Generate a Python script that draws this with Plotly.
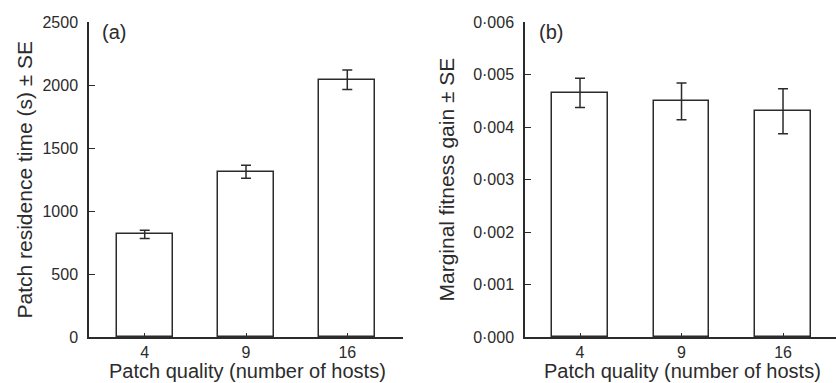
import plotly.graph_objects as go

# ---- data ----
categories = ["4", "9", "16"]
residence_time = [815, 1312, 2042]
residence_se = [33, 52, 78]
fitness_gain = [0.00465, 0.00449, 0.00430]
fitness_se = [0.00028, 0.00035, 0.00043]

yticks_a = [0, 500, 1000, 1500, 2000, 2500]
yticklabels_a = ["0", "500", "1000", "1500", "2000", "2500"]
yticks_b = [0, 0.001, 0.002, 0.003, 0.004, 0.005, 0.006]
yticklabels_b = ["0·000", "0·001", "0·002", "0·003", "0·004", "0·005", "0·006"]

xtitle = "Patch quality (number of hosts)"
ytitle_a = "Patch residence time (s) ± SE"
ytitle_b = "Marginal fitness gain ± SE"

INK = "#2b2b2b"
FONT = "Liberation Sans, Arial, sans-serif"
xpos = list(range(len(categories)))

fig = go.Figure()
fig.add_trace(go.Bar(
    x=xpos, y=residence_time, width=0.55,
    marker=dict(color="white", line=dict(color=INK, width=1.5)),
    error_y=dict(type="data", array=residence_se, color=INK, thickness=1.5, width=5),
    xaxis="x", yaxis="y", showlegend=False))
fig.add_trace(go.Bar(
    x=xpos, y=fitness_gain, width=0.55,
    marker=dict(color="white", line=dict(color=INK, width=1.5)),
    error_y=dict(type="data", array=fitness_se, color=INK, thickness=1.5, width=5),
    xaxis="x2", yaxis="y2", showlegend=False))

xcommon = dict(tickmode="array", tickvals=xpos, ticktext=categories,
               ticks="inside", ticklen=4, tickwidth=1.3, tickcolor=INK,
               showline=True, linecolor=INK, linewidth=1.5, showgrid=False,
               zeroline=False, tickfont=dict(size=16, color=INK, family=FONT))
ycommon = dict(tickmode="array", ticks="inside", ticklen=6, tickwidth=1.3, tickcolor=INK,
               showline=True, linecolor=INK, linewidth=1.5, showgrid=False,
               zeroline=False, ticklabelstandoff=6,
               tickfont=dict(size=16, color=INK, family=FONT))

fig.update_layout(
    width=836, height=383,
    margin=dict(l=0, r=0, t=22, b=46),
    paper_bgcolor="white", plot_bgcolor="white",
    font=dict(family=FONT, color=INK),
    bargap=0,
    xaxis=dict(domain=[89/836, 403/836], range=[-0.55, 2.55], anchor="y", **xcommon),
    yaxis=dict(domain=[0, 1], range=[0, 2500], anchor="x",
               tickvals=yticks_a, ticktext=yticklabels_a, **ycommon),
    xaxis2=dict(domain=[525/836, 1.0], range=[-0.542, 2.522], anchor="y2", **xcommon),
    yaxis2=dict(domain=[0, 1], range=[0, 0.006], anchor="x2",
                tickvals=yticks_b, ticktext=yticklabels_b, **ycommon),
)

xt = dict(showarrow=False, font=dict(size=20, color=INK, family=FONT))
fig.add_annotation(text=xtitle, xref="paper", yref="paper", x=247/836, y=0,
                   yshift=-34, yanchor="middle", xanchor="center", **xt)
fig.add_annotation(text=xtitle, xref="paper", yref="paper", x=682/836, y=0,
                   yshift=-34, yanchor="middle", xanchor="center", **xt)
yt = dict(showarrow=False, font=dict(size=21, color=INK, family=FONT))
fig.add_annotation(text=ytitle_a, xref="paper", yref="y domain", x=24/836, y=0.5,
                   textangle=-90, xanchor="center", yanchor="middle", **yt)
fig.add_annotation(text=ytitle_b, xref="paper", yref="y2 domain", x=446/836, y=0.5,
                   textangle=-90, xanchor="center", yanchor="middle", **yt)
lab = dict(showarrow=False, font=dict(size=20, color=INK, family=FONT))
fig.add_annotation(text="(a)", xref="paper", yref="paper", x=100/836, y=1,
                   yshift=-10, xanchor="left", yanchor="middle", **lab)
fig.add_annotation(text="(b)", xref="paper", yref="paper", x=537/836, y=1,
                   yshift=-10, xanchor="left", yanchor="middle", **lab)

fig.write_html("out.html")
